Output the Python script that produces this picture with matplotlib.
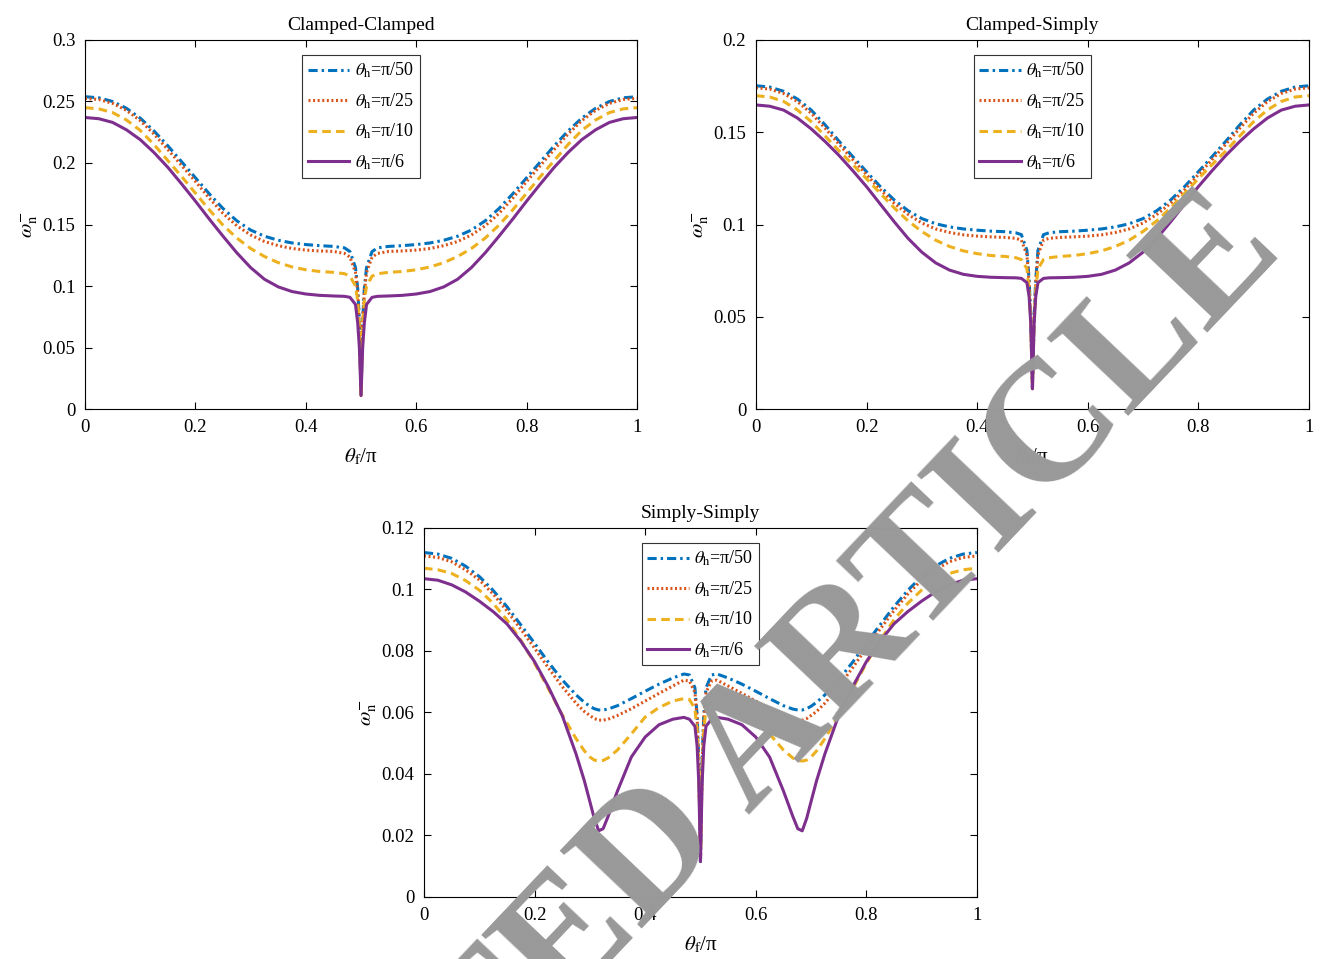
import matplotlib.pyplot as plt

plt.rcParams['font.family'] = ['Liberation Serif', 'DejaVu Serif']
plt.rcParams['mathtext.fontset'] = 'stix'

# x grid (theta_f / pi) for the two clamped cases
x_c = [0, 0.025, 0.05, 0.075, 0.1, 0.125, 0.15, 0.175, 0.2, 0.225, 0.25, 0.275, 0.3, 0.325, 0.35, 0.375,
       0.4, 0.425, 0.45, 0.47, 0.48, 0.49, 0.494, 0.497, 0.5,
       0.503, 0.506, 0.51, 0.52, 0.53, 0.55, 0.575, 0.6, 0.625, 0.65, 0.675, 0.7, 0.725, 0.75, 0.775,
       0.8, 0.825, 0.85, 0.875, 0.9, 0.925, 0.95, 0.975, 1.0]

# Clamped-Clamped
cc_50 = [0.2539, 0.2530, 0.2500, 0.2445, 0.2365, 0.2260, 0.2140, 0.2010, 0.1880, 0.1750, 0.1630, 0.1530,
         0.1455, 0.1405, 0.1372, 0.1350, 0.1337, 0.1328, 0.1322, 0.1310, 0.1280, 0.1150, 0.0980, 0.0720, 0.0110,
         0.0720, 0.0980, 0.1150, 0.1280, 0.1310, 0.1322, 0.1328, 0.1337, 0.1350, 0.1372, 0.1405, 0.1455,
         0.1530, 0.1630, 0.1750, 0.1880, 0.2010, 0.2140, 0.2260, 0.2365, 0.2445, 0.2500, 0.2530, 0.2539]
cc_25 = [0.2526, 0.2516, 0.2485, 0.2428, 0.2345, 0.2235, 0.2110, 0.1980, 0.1850, 0.1715, 0.1590, 0.1490,
         0.1415, 0.1362, 0.1328, 0.1305, 0.1292, 0.1285, 0.1281, 0.1265, 0.1235, 0.1110, 0.0950, 0.0700, 0.0110,
         0.0700, 0.0950, 0.1110, 0.1235, 0.1265, 0.1281, 0.1285, 0.1292, 0.1305, 0.1328, 0.1362, 0.1415,
         0.1490, 0.1590, 0.1715, 0.1850, 0.1980, 0.2110, 0.2235, 0.2345, 0.2428, 0.2485, 0.2516, 0.2526]
cc_10 = [0.2450, 0.2440, 0.2410, 0.2350, 0.2265, 0.2150, 0.2020, 0.1890, 0.1755, 0.1620, 0.1495, 0.1390,
         0.1305, 0.1240, 0.1190, 0.1155, 0.1132, 0.1118, 0.1111, 0.1100, 0.1080, 0.1000, 0.0880, 0.0680, 0.0110,
         0.0680, 0.0880, 0.1000, 0.1080, 0.1100, 0.1111, 0.1118, 0.1132, 0.1155, 0.1190, 0.1240, 0.1305,
         0.1390, 0.1495, 0.1620, 0.1755, 0.1890, 0.2020, 0.2150, 0.2265, 0.2350, 0.2410, 0.2440, 0.2450]
cc_6 = [0.2370, 0.2360, 0.2330, 0.2270, 0.2190, 0.2085, 0.1965, 0.1830, 0.1690, 0.1545, 0.1405, 0.1270,
        0.1150, 0.1055, 0.0993, 0.0955, 0.0935, 0.0924, 0.0919, 0.0916, 0.0908, 0.0850, 0.0700, 0.0500, 0.0110,
        0.0500, 0.0700, 0.0850, 0.0908, 0.0916, 0.0919, 0.0924, 0.0935, 0.0955, 0.0993, 0.1055, 0.1150,
        0.1270, 0.1405, 0.1545, 0.1690, 0.1830, 0.1965, 0.2085, 0.2190, 0.2270, 0.2330, 0.2360, 0.2370]

# Clamped-Simply
cs_50 = [0.1752, 0.1745, 0.1722, 0.1680, 0.1620, 0.1540, 0.1452, 0.1368, 0.1286, 0.1205, 0.1133, 0.1075,
         0.1032, 0.1004, 0.0987, 0.0976, 0.0969, 0.0964, 0.0961, 0.0955, 0.0945, 0.0860, 0.0700, 0.0500, 0.0110,
         0.0500, 0.0700, 0.0860, 0.0945, 0.0955, 0.0961, 0.0964, 0.0969, 0.0976, 0.0987, 0.1004, 0.1032,
         0.1075, 0.1133, 0.1205, 0.1286, 0.1368, 0.1452, 0.1540, 0.1620, 0.1680, 0.1722, 0.1745, 0.1752]
cs_25 = [0.1741, 0.1734, 0.1710, 0.1666, 0.1603, 0.1522, 0.1436, 0.1352, 0.1270, 0.1188, 0.1115, 0.1055,
         0.1008, 0.0976, 0.0957, 0.0944, 0.0937, 0.0933, 0.0930, 0.0925, 0.0915, 0.0835, 0.0680, 0.0490, 0.0110,
         0.0490, 0.0680, 0.0835, 0.0915, 0.0925, 0.0930, 0.0933, 0.0937, 0.0944, 0.0957, 0.0976, 0.1008,
         0.1055, 0.1115, 0.1188, 0.1270, 0.1352, 0.1436, 0.1522, 0.1603, 0.1666, 0.1710, 0.1734, 0.1741]
cs_10 = [0.1698, 0.1691, 0.1667, 0.1621, 0.1557, 0.1480, 0.1400, 0.1325, 0.1248, 0.1168, 0.1090, 0.1020,
         0.0962, 0.0915, 0.0881, 0.0857, 0.0842, 0.0832, 0.0827, 0.0820, 0.0810, 0.0760, 0.0640, 0.0470, 0.0110,
         0.0470, 0.0640, 0.0760, 0.0810, 0.0820, 0.0827, 0.0832, 0.0842, 0.0857, 0.0881, 0.0915, 0.0962,
         0.1020, 0.1090, 0.1168, 0.1248, 0.1325, 0.1400, 0.1480, 0.1557, 0.1621, 0.1667, 0.1691, 0.1698]
cs_6 = [0.1648, 0.1641, 0.1620, 0.1577, 0.1518, 0.1450, 0.1375, 0.1292, 0.1205, 0.1110, 0.1015, 0.0925,
        0.0850, 0.0792, 0.0753, 0.0730, 0.0719, 0.0714, 0.0712, 0.0711, 0.0708, 0.0685, 0.0610, 0.0460, 0.0110,
        0.0460, 0.0610, 0.0685, 0.0708, 0.0711, 0.0712, 0.0714, 0.0719, 0.0730, 0.0753, 0.0792, 0.0850,
        0.0925, 0.1015, 0.1110, 0.1205, 0.1292, 0.1375, 0.1450, 0.1518, 0.1577, 0.1620, 0.1641, 0.1648]

# Simply-Simply
x_s = [0, 0.025, 0.05, 0.075, 0.1, 0.125, 0.15, 0.175, 0.2, 0.225, 0.25, 0.275, 0.29, 0.3, 0.308, 0.316,
       0.324, 0.333, 0.35, 0.375, 0.4, 0.425, 0.45, 0.47, 0.48, 0.49, 0.494, 0.497, 0.5,
       0.503, 0.506, 0.51, 0.52, 0.53, 0.55, 0.575, 0.6, 0.625, 0.65, 0.667, 0.676, 0.684, 0.692, 0.7,
       0.71, 0.725, 0.75, 0.775, 0.8, 0.825, 0.85, 0.875, 0.9, 0.925, 0.95, 0.975, 1.0]
ss_50 = [0.1120, 0.1115, 0.1101, 0.1076, 0.1042, 0.0997, 0.0944, 0.0885, 0.0825, 0.0763, 0.0706, 0.0657,
         0.0633, 0.0620, 0.0612, 0.0608, 0.0608, 0.0611, 0.0622, 0.0645, 0.0669, 0.0692, 0.0712, 0.0725,
         0.0722, 0.0680, 0.0590, 0.0440, 0.0115,
         0.0440, 0.0590, 0.0680, 0.0722, 0.0725, 0.0712, 0.0692, 0.0669, 0.0645, 0.0622, 0.0611, 0.0608,
         0.0608, 0.0612, 0.0620, 0.0633, 0.0657, 0.0706, 0.0763, 0.0825, 0.0885, 0.0944, 0.0997, 0.1042,
         0.1076, 0.1101, 0.1115, 0.1120]
ss_25 = [0.1109, 0.1104, 0.1090, 0.1064, 0.1031, 0.0985, 0.0931, 0.0871, 0.0809, 0.0745, 0.0684, 0.0630,
         0.0603, 0.0590, 0.0580, 0.0575, 0.0575, 0.0578, 0.0590, 0.0612, 0.0637, 0.0662, 0.0686, 0.0705,
         0.0702, 0.0665, 0.0580, 0.0430, 0.0115,
         0.0430, 0.0580, 0.0665, 0.0702, 0.0705, 0.0686, 0.0662, 0.0637, 0.0612, 0.0590, 0.0578, 0.0575,
         0.0575, 0.0580, 0.0590, 0.0603, 0.0630, 0.0684, 0.0745, 0.0809, 0.0871, 0.0931, 0.0985, 0.1031,
         0.1064, 0.1090, 0.1104, 0.1109]
ss_10 = [0.1069, 0.1064, 0.1052, 0.1029, 0.0998, 0.0955, 0.0901, 0.0835, 0.0760, 0.0677, 0.0592, 0.0515,
         0.0475, 0.0455, 0.0445, 0.0442, 0.0444, 0.0452, 0.0478, 0.0530, 0.0585, 0.0616, 0.0637, 0.0645,
         0.0642, 0.0612, 0.0540, 0.0410, 0.0115,
         0.0410, 0.0540, 0.0612, 0.0642, 0.0645, 0.0637, 0.0616, 0.0585, 0.0530, 0.0478, 0.0452, 0.0444,
         0.0442, 0.0445, 0.0455, 0.0475, 0.0515, 0.0592, 0.0677, 0.0760, 0.0835, 0.0901, 0.0955, 0.0998,
         0.1029, 0.1052, 0.1064, 0.1069]
ss_6 = [0.1035, 0.1030, 0.1015, 0.0992, 0.0962, 0.0928, 0.0888, 0.0832, 0.0765, 0.0683, 0.0590, 0.0465,
        0.0378, 0.0310, 0.0255, 0.0215, 0.0222, 0.0262, 0.0345, 0.0455, 0.0520, 0.0560, 0.0578, 0.0584,
        0.0578, 0.0555, 0.0490, 0.0370, 0.0115,
        0.0370, 0.0490, 0.0555, 0.0578, 0.0584, 0.0578, 0.0560, 0.0520, 0.0455, 0.0345, 0.0262, 0.0222,
        0.0215, 0.0255, 0.0310, 0.0378, 0.0465, 0.0590, 0.0683, 0.0765, 0.0832, 0.0888, 0.0928, 0.0962,
        0.0992, 0.1015, 0.1030, 0.1035]

labels = [r'$\theta_{\mathrm{h}}$=π/50', r'$\theta_{\mathrm{h}}$=π/25',
          r'$\theta_{\mathrm{h}}$=π/10', r'$\theta_{\mathrm{h}}$=π/6']
titles = ['Clamped-Clamped', 'Clamped-Simply', 'Simply-Simply']
xticks = [0, 0.2, 0.4, 0.6, 0.8, 1]
xticklabels = ['0', '0.2', '0.4', '0.6', '0.8', '1']
yticks_cc = [0, 0.05, 0.1, 0.15, 0.2, 0.25, 0.3]
yticklabels_cc = ['0', '0.05', '0.1', '0.15', '0.2', '0.25', '0.3']
yticks_cs = [0, 0.05, 0.1, 0.15, 0.2]
yticklabels_cs = ['0', '0.05', '0.1', '0.15', '0.2']
yticks_ss = [0, 0.02, 0.04, 0.06, 0.08, 0.1, 0.12]
yticklabels_ss = ['0', '0.02', '0.04', '0.06', '0.08', '0.1', '0.12']

colors = ['#0072BD', '#D95319', '#EDB120', '#7E2F8E']
dash_styles = [(0, (3.0, 1.3, 0.8, 1.3)), (0, (0.65, 0.85)), (0, (2.8, 1.7)), '-']

fig = plt.figure(figsize=(13.2, 9.59), dpi=100)
ax1 = fig.add_axes([0.0644, 0.5735, 0.4182, 0.3848])
ax2 = fig.add_axes([0.5727, 0.5735, 0.4189, 0.3848])
ax3 = fig.add_axes([0.3212, 0.0647, 0.4189, 0.3848])

panels = [
    (ax1, x_c, [cc_50, cc_25, cc_10, cc_6], yticks_cc, yticklabels_cc, 0.3),
    (ax2, x_c, [cs_50, cs_25, cs_10, cs_6], yticks_cs, yticklabels_cs, 0.2),
    (ax3, x_s, [ss_50, ss_25, ss_10, ss_6], yticks_ss, yticklabels_ss, 0.12),
]

for i, (ax, xs, series, yt, ytl, ymax) in enumerate(panels):
    for j in range(4):
        ax.plot(xs, series[j], color=colors[j], linestyle=dash_styles[j], lw=2.2, label=labels[j])
    ax.set_xlim(0, 1)
    ax.set_ylim(0, ymax)
    ax.set_xticks(xticks)
    ax.set_xticklabels(xticklabels)
    ax.set_yticks(yt)
    ax.set_yticklabels(ytl)
    ax.tick_params(direction='in', length=5, width=0.8, top=True, right=True, labelsize=13.5, pad=7)
    for s in ax.spines.values():
        s.set_linewidth(0.8)
    ax.set_title(titles[i], fontsize=14, pad=7)
    ax.set_xlabel(r'$\theta_{\mathrm{f}}$/π', fontsize=15, labelpad=8)
    ax.set_ylabel(r'$\omega_{\mathrm{n}}^{-}$', fontsize=15, labelpad=2)
    leg = ax.legend(loc='upper center', bbox_to_anchor=(0.5, 0.958), fontsize=13, handlelength=2.3,
                    handletextpad=0.3, labelspacing=0.62, borderpad=0.3, fancybox=False, framealpha=1,
                    edgecolor='#333333', borderaxespad=0)
    leg.get_frame().set_linewidth(0.8)

# watermark
fig.text(0.4576, 0.051, 'RETRACTED ARTICLE', rotation=46.5, color='#999999', fontsize=124,
         fontweight='bold', ha='center', va='center', zorder=20, rotation_mode='anchor')

fig.savefig('out.png', dpi=100)
